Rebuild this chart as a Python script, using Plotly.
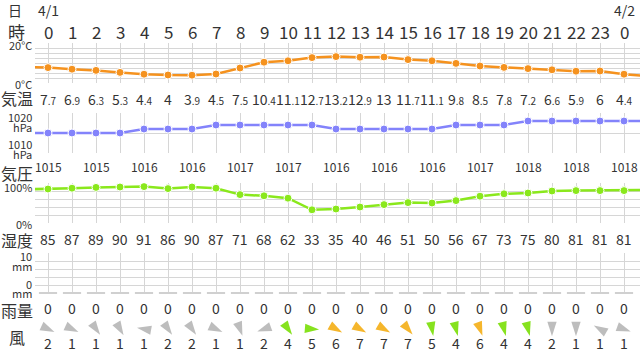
import math
import plotly.graph_objects as go

# ---------------- data ----------------
hours = list(range(0, 25))
hour_labels = [str(h) for h in range(24)] + ["0"]
date_labels = {0: "4/1", 24: "4/2"}

temp = [7.7, 6.9, 6.3, 5.3, 4.4, 4, 3.9, 4.5, 7.5, 10.4, 11.1, 12.7, 13.2,
        12.9, 13, 11.7, 11.1, 9.8, 8.5, 7.8, 7.2, 6.6, 5.9, 6, 4.4]
temp_before, temp_after = 8.0, 3.4

pressure = [1015, 1015, 1015, 1015, 1016, 1016, 1016, 1017, 1017, 1017, 1017,
            1017, 1016, 1016, 1016, 1016, 1016, 1017, 1017, 1017, 1018, 1018,
            1018, 1018, 1018]
pressure_before, pressure_after = 1015, 1018
pressure_label_hours = list(range(0, 25, 2))

humidity = [85, 87, 89, 90, 91, 86, 90, 87, 71, 68, 62, 33, 35, 40, 46, 51,
            50, 56, 67, 73, 75, 80, 81, 81, 81]
humidity_before, humidity_after = 84, 83

rain = [0] * 25

wind_speed = [2, 1, 1, 1, 1, 2, 2, 1, 1, 2, 4, 5, 6, 7, 7, 7, 5, 4, 6, 4, 4,
              2, 1, 1, 1]
# heading the arrow points to, degrees clockwise from north
wind_heading = [115, 115, 145, 150, 280, 145, 145, 115, 160, 250, 145, 95,
                120, 120, 120, 140, 170, 165, 160, 165, 165, 180, 180, 300, 110]

# ---------------- layout helpers ----------------
W, H = 640, 354
LEFT = 35
X0_PX, X_STEP = 48, 24
xrange_ = [(LEFT - X0_PX) / X_STEP, (W - X0_PX) / X_STEP]

FONT = "Noto Sans CJK JP"
TXT = "#333333"
GRID = "#d6d6d6"

C_TEMP = "#f5921e"
C_PRES = "#8383fb"
C_HUM = "#8ae81c"
C_GRAY = "#bdbdbd"
C_GREEN = "#86e21e"
C_ORANGE = "#f5b62c"


def yp(px):
    return 1 - px / H


fig = go.Figure()

panels = [  # top px, bottom px, range, dtick
    (43, 83, [0, 20], 2.5),
    (113, 153, [1010, 1020], 5),
    (183, 223, [0, 100], 20),
    (253, 293, [0, 10], 2),
]
# wind row: its own small subplot so the arrows stay inside an axis range
WIND_TOP, WIND_BOT = 316, 342
WIND_ROW = 329

layout = {}
for i, (top, bot, rng, dt) in enumerate(panels, start=1):
    sfx = "" if i == 1 else str(i)
    layout["xaxis" + sfx] = dict(domain=[LEFT / W, 1], range=xrange_, anchor="y" + sfx,
                                 showgrid=True, gridcolor=GRID, gridwidth=1, dtick=1, tick0=0,
                                 showticklabels=False, zeroline=False, showline=False, ticks="",
                                 layer="below traces")
    layout["yaxis" + sfx] = dict(domain=[yp(bot), yp(top)], range=rng, anchor="x" + sfx,
                                 showgrid=True, gridcolor=GRID, gridwidth=1, dtick=dt,
                                 tick0=rng[0], showticklabels=False, zeroline=False,
                                 showline=False, ticks="")

layout["xaxis5"] = dict(domain=[LEFT / W, 1], range=xrange_, anchor="y5", visible=False)
layout["yaxis5"] = dict(domain=[yp(WIND_BOT), yp(WIND_TOP)], range=[WIND_BOT, WIND_TOP],
                        anchor="x5", visible=False)

ext_hours = [-1] + hours + [25]

fig.add_trace(go.Scatter(x=ext_hours, y=[temp_before] + temp + [temp_after],
                         xaxis="x", yaxis="y", mode="lines+markers",
                         line=dict(color=C_TEMP, width=2.5),
                         marker=dict(size=8, color=C_TEMP, line=dict(color="white", width=1))))
fig.add_trace(go.Scatter(x=ext_hours, y=[pressure_before] + pressure + [pressure_after],
                         xaxis="x2", yaxis="y2", mode="lines+markers",
                         line=dict(color=C_PRES, width=2.5),
                         marker=dict(size=8, color=C_PRES, line=dict(color="white", width=1))))
fig.add_trace(go.Scatter(x=ext_hours, y=[humidity_before] + humidity + [humidity_after],
                         xaxis="x3", yaxis="y3", mode="lines+markers",
                         line=dict(color=C_HUM, width=2.5),
                         marker=dict(size=8, color=C_HUM, line=dict(color="white", width=1))))
fig.add_trace(go.Scatter(x=hours, y=rain, xaxis="x4", yaxis="y4", mode="markers",
                         cliponaxis=False,
                         marker=dict(symbol="line-ew", size=13, color="#d0d0d0",
                                     line=dict(color="#d0d0d0", width=2))))

# plotly's arrow symbol has its tip at the data point, so shift each point
# half an arrow length along its heading (wind y axis is in pixel units)
ARROW_SIZE = 15
half_len = 0.951 * ARROW_SIZE / 2


def wind_color(s):
    if s >= 6:
        return C_ORANGE
    if s >= 4:
        return C_GREEN
    return C_GRAY


ax_x, ax_y = [], []
for h, hd in zip(hours, wind_heading):
    r = math.radians(hd)
    ax_x.append(h + half_len * math.sin(r) / X_STEP)
    ax_y.append(WIND_ROW - half_len * math.cos(r))
fig.add_trace(go.Scatter(x=ax_x, y=ax_y, xaxis="x5", yaxis="y5", mode="markers",
                         cliponaxis=False,
                         marker=dict(symbol="arrow", size=ARROW_SIZE, angle=wind_heading,
                                     color=[wind_color(s) for s in wind_speed],
                                     line=dict(width=0))))

# ---------------- text ----------------
ann = []


def add(text, x, ypx, size, xref="x", xanchor="center", color=TXT):
    ann.append(dict(text=text, x=x, y=yp(ypx), xref=xref, yref="paper", showarrow=False,
                    xanchor=xanchor, yanchor="middle",
                    font=dict(family=FONT, size=size, color=color)))


# left row titles
add("日", 15 / W, 10, 14, xref="paper")
add("時", 16 / W, 31, 17, xref="paper")
add("気温", 17 / W, 98, 16, xref="paper")
add("気圧", 17 / W, 173, 16, xref="paper")
add("湿度", 17 / W, 240, 16, xref="paper")
add("雨量", 17 / W, 310, 16, xref="paper")
add("風", 17 / W, 337, 16, xref="paper")

# axis labels
ax_lbl = [("20°C", 45), ("0°C", 84), ("1020", 117), ("hPa", 127), ("1010", 144), ("hPa", 154),
          ("100%", 187), ("0%", 224), ("10", 256), ("mm", 266), ("0", 284), ("mm", 293)]
for t, ypx in ax_lbl:
    add(t, 34 / W, ypx, 11, xref="paper", xanchor="right")

for h, lbl in date_labels.items():
    add(lbl, h, 10, 14)
for h, lbl in zip(hours, hour_labels):
    add(lbl, h, 31, 17)


def temp_text(v):
    s = f"{v:g}"
    if "." in s:
        a, b = s.split(".")
        return f"{a}<span style='font-size:10px'>.{b}</span>"
    return s


for h, v in zip(hours, temp):
    add(temp_text(v), h, 99, 14)
for h in pressure_label_hours:
    add(str(pressure[h]), h, 167, 12)
for h, v in zip(hours, humidity):
    add(str(v), h, 239, 14)
for h, v in zip(hours, rain):
    add(f"{v:g}", h, 308, 14)
for h, v in zip(hours, wind_speed):
    add(str(v), h, 343, 14)

fig.update_layout(width=W, height=H, margin=dict(l=0, r=0, t=0, b=0),
                  paper_bgcolor="white", plot_bgcolor="rgba(0,0,0,0)", showlegend=False,
                  annotations=ann, **layout)

fig.write_html("out.html")
